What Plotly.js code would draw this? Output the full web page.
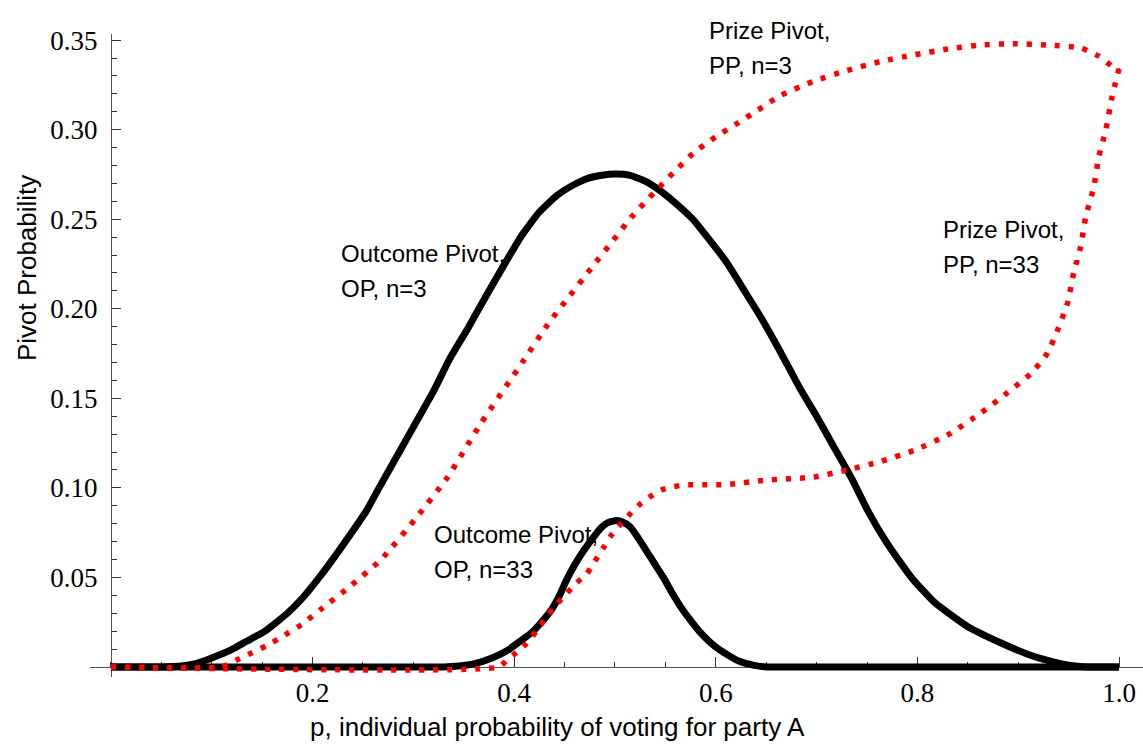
<!DOCTYPE html>
<html>
<head>
<meta charset="utf-8">
<script src="https://cdn.plot.ly/plotly-3.0.1.min.js"></script>
<style>
  html, body { margin: 0; padding: 0; background: #fff; }
  #chart { width: 1143px; height: 748px; }
</style>
</head>
<body>
<div id="chart"></div>
<script>
// ---- Data ----
// Outcome Pivot, n=3 (black solid)
const p_op3 = [0, 0.05, 0.07, 0.085, 0.10, 0.119, 0.135, 0.152, 0.175, 0.19, 0.208, 0.225, 0.24, 0.254, 0.265, 0.288, 0.301, 0.32, 0.336, 0.354, 0.372, 0.39, 0.407, 0.425, 0.443, 0.46, 0.473, 0.487, 0.50, 0.515, 0.531, 0.547, 0.562, 0.578, 0.593, 0.61, 0.629, 0.646, 0.664, 0.684, 0.70, 0.717, 0.735, 0.751, 0.77, 0.794, 0.817, 0.85, 0.883, 0.91, 0.93, 0.95, 0.97, 1.0];
const op3 = [0, 0, 0.0006, 0.002, 0.005, 0.0095, 0.0145, 0.0197, 0.030, 0.0385, 0.051, 0.064, 0.076, 0.0877, 0.099, 0.122, 0.135, 0.154, 0.172, 0.189, 0.207, 0.2245, 0.2405, 0.254, 0.2635, 0.2695, 0.2728, 0.2745, 0.2752, 0.2745, 0.271, 0.265, 0.258, 0.2495, 0.239, 0.2265, 0.2095, 0.194, 0.176, 0.155, 0.140, 0.123, 0.105, 0.087, 0.069, 0.050, 0.036, 0.0225, 0.0134, 0.007, 0.0035, 0.001, 0, 0];

// Outcome Pivot, n=33 (black solid)
const p_op33 = [0, 0.33, 0.345, 0.36, 0.378, 0.394, 0.405, 0.417, 0.427, 0.437, 0.445, 0.452, 0.46, 0.469, 0.478, 0.486, 0.493, 0.50, 0.507, 0.515, 0.523, 0.531, 0.54, 0.548, 0.557, 0.565, 0.575, 0.585, 0.595, 0.604, 0.614, 0.624, 0.637, 0.65, 0.67, 1.0];
const op33 = [0, 0, 0.0005, 0.0017, 0.005, 0.0095, 0.014, 0.019, 0.025, 0.032, 0.040, 0.0486, 0.057, 0.065, 0.072, 0.0776, 0.0806, 0.0817, 0.081, 0.0783, 0.072, 0.065, 0.057, 0.050, 0.041, 0.0337, 0.026, 0.019, 0.0135, 0.0095, 0.006, 0.003, 0.001, 0, 0, 0];

// Prize Pivot, n=3 (red dotted)
const p_pp3 = [0, 0.11, 0.125, 0.14, 0.155, 0.17, 0.19, 0.21, 0.235, 0.268, 0.301, 0.334, 0.367, 0.408, 0.433, 0.452, 0.479, 0.498, 0.516, 0.539, 0.558, 0.578, 0.60, 0.62, 0.642, 0.664, 0.697, 0.73, 0.763, 0.796, 0.83, 0.863, 0.895, 0.928, 0.962, 0.98, 0.995, 1.0];
const pp3 = [0, 0, 0.004, 0.008, 0.012, 0.017, 0.024, 0.033, 0.044, 0.060, 0.082, 0.106, 0.136, 0.170, 0.191, 0.205, 0.2245, 0.238, 0.251, 0.265, 0.276, 0.287, 0.296, 0.303, 0.311, 0.319, 0.327, 0.333, 0.338, 0.3417, 0.345, 0.3473, 0.348, 0.3473, 0.3456, 0.341, 0.3345, 0.333];

// Prize Pivot, n=33 (red dotted)
const p_pp33 = [0, 0.385, 0.393, 0.402, 0.412, 0.422, 0.432, 0.442, 0.452, 0.462, 0.472, 0.48, 0.489, 0.497, 0.506, 0.516, 0.526, 0.536, 0.546, 0.557, 0.568, 0.59, 0.611, 0.651, 0.697, 0.73, 0.763, 0.797, 0.83, 0.863, 0.889, 0.913, 0.929, 0.939, 0.949, 0.955, 0.962, 0.967, 0.975, 0.98, 0.987, 0.993, 1.0];
const pp33 = [0, 0, 0.004, 0.008, 0.013, 0.020, 0.028, 0.035, 0.041, 0.047, 0.052, 0.059, 0.067, 0.074, 0.080, 0.086, 0.0915, 0.0955, 0.0988, 0.1005, 0.1016, 0.1018, 0.1018, 0.1044, 0.106, 0.110, 0.1146, 0.121, 0.1295, 0.1418, 0.153, 0.164, 0.1753, 0.188, 0.2032, 0.220, 0.2347, 0.2514, 0.268, 0.285, 0.30, 0.318, 0.334];

// Tick labels
const xTickVals = [0.2, 0.4, 0.6, 0.8, 1.0];
const xTickText = ["0.2", "0.4", "0.6", "0.8", "1.0"];
const yTickVals = [0.05, 0.10, 0.15, 0.20, 0.25, 0.30, 0.35];
const yTickText = ["0.05", "0.10", "0.15", "0.20", "0.25", "0.30", "0.35"];

// Curve labels (two lines each)
const curveLabels = [
  ["Outcome Pivot,", "OP, n=3"],
  ["Prize Pivot,", "PP, n=3"],
  ["Prize Pivot,", "PP, n=33"],
  ["Outcome Pivot,", "OP, n=33"]
];
const xTitle = "p, individual probability of voting for party A";
const yTitle = "Pivot Probability";

// ---- Layout ----
const serif = "Liberation Serif, Times New Roman, serif";
const sans = "Liberation Sans, Arial, Helvetica, sans-serif";
const xRange = [-0.0208, 1.0238];
const yRange = [-0.0056, 0.3534];

const blackLine = { color: "#000000", width: 7, shape: "spline", smoothing: 0.5 };
const redLine = { color: "#ff0000", width: 5.5, dash: "5px,9px", shape: "spline", smoothing: 0.5 };

const traces = [
  { x: p_op3, y: op3, mode: "lines", line: blackLine, hoverinfo: "skip" },
  { x: p_op33, y: op33, mode: "lines", line: blackLine, hoverinfo: "skip" },
  { x: p_pp3, y: pp3, mode: "lines", line: redLine, hoverinfo: "skip" },
  { x: p_pp33, y: pp33, mode: "lines", line: redLine, hoverinfo: "skip" }
];

// label anchor positions: data coords of the SECOND line, left edge
const labelPos = [
  { x: 0.226, y: 0.2114 },
  { x: 0.591, y: 0.3359 },
  { x: 0.823, y: 0.2248 },
  { x: 0.318, y: 0.0545 }
];
const lineGapPx = 35;

const annotations = [];
curveLabels.forEach((lines, i) => {
  lines.forEach((t, j) => {
    annotations.push({
      text: t, x: labelPos[i].x, y: labelPos[i].y,
      yshift: (lines.length - 1 - j) * lineGapPx,
      xref: "x", yref: "y", xanchor: "left", yanchor: "middle",
      showarrow: false, font: { family: sans, size: 24, color: "#000" }
    });
  });
});
annotations.push({
  text: xTitle, xref: "paper", yref: "paper", x: 0.444, y: -0.0775,
  xanchor: "center", yanchor: "middle", showarrow: false,
  font: { family: sans, size: 26, color: "#000" }
});
annotations.push({
  text: yTitle, xref: "paper", yref: "paper", x: -0.0598, y: 0.636,
  xanchor: "center", yanchor: "middle", showarrow: false, textangle: -90,
  font: { family: sans, size: 26, color: "#000" }
});

const xPos0 = (0 - yRange[0]) / (yRange[1] - yRange[0]);
const yPos0 = (0 - xRange[0]) / (xRange[1] - xRange[0]);

const layout = {
  width: 1143, height: 748,
  margin: { l: 90, r: 0, t: 34, b: 71 },
  paper_bgcolor: "#fff", plot_bgcolor: "#fff",
  showlegend: false,
  xaxis: {
    range: xRange, anchor: "free", position: xPos0,
    showgrid: false, zeroline: false, showline: true, linecolor: "#555", linewidth: 1,
    tickmode: "array", tickvals: xTickVals, ticktext: xTickText,
    ticks: "inside", ticklen: 10, tickcolor: "#333", tickwidth: 1,
    tickfont: { family: serif, size: 27, color: "#000" },
    ticklabelstandoff: 2,
    minor: { tickmode: "linear", tick0: 0, dtick: 0.05, ticks: "inside", ticklen: 5, tickcolor: "#333", tickwidth: 1 },
    layer: "below traces", fixedrange: true
  },
  yaxis: {
    range: yRange, anchor: "free", position: yPos0,
    showgrid: false, zeroline: false, showline: true, linecolor: "#555", linewidth: 1,
    tickmode: "array", tickvals: yTickVals, ticktext: yTickText,
    ticks: "inside", ticklen: 9, tickcolor: "#333", tickwidth: 1,
    tickfont: { family: serif, size: 27, color: "#000" },
    ticklabelstandoff: 8,
    minor: { tickmode: "linear", tick0: 0, dtick: 0.01, ticks: "inside", ticklen: 5, tickcolor: "#333", tickwidth: 1 },
    layer: "below traces", fixedrange: true
  },
  annotations: annotations
};

Plotly.newPlot("chart", traces, layout, { displayModeBar: false, staticPlot: true });
</script>
</body>
</html>
